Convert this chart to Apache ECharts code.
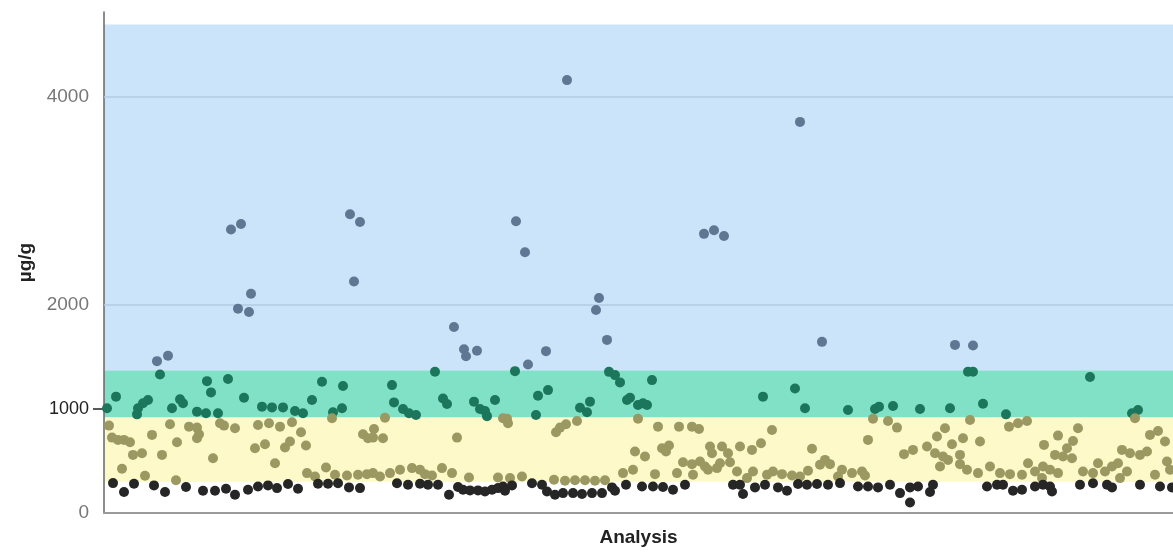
<!DOCTYPE html>
<html>
<head>
<meta charset="utf-8">
<script src="https://cdn.jsdelivr.net/npm/echarts@6/dist/echarts.min.js"></script>
<style>
  html, body { margin: 0; padding: 0; background: #ffffff; }
  #chart { width: 1173px; height: 552px; }
</style>
</head>
<body>
<div id="chart"></div>
<script>
// ---- Data (analysis number, µg/g) ----
const yTickLabels = [0, 1000, 2000, 4000];
const gridLineValues = [2000, 4000];
const bandLimits = [0, 300, 920, 1370, 4690];   // white / yellow / green / blue
const analysisCount = 1069;

const highPoints = [
  [53,1458],[64,1509],[127,2721],[137,2775],[147,2105],[134,1962],[145,1930],
  [246,2868],[256,2794],[250,2223],[350,1786],[360,1572],[362,1505],[373,1558],
  [412,2801],[421,2504],[424,1426],[442,1554],[463,4156],[495,2064],[492,1949],
  [503,1662],[600,2680],[610,2715],[620,2660],[696,3755],[718,1643],[851,1614],[869,1608]
];

const elevatedPoints = [
  [56,1330],[103,1266],[124,1286],[107,1158],[12,1117],[44,1085],[39,1053],[34,1005],
  [76,1091],[79,1053],[68,1005],[3,1005],[93,973],[102,957],[114,957],[33,947],
  [218,1260],[239,1219],[140,1107],[208,1085],[158,1021],[168,1014],[179,1014],[191,979],
  [199,957],[238,1005],[229,967],
  [331,1356],[288,1228],[290,1062],[299,998],[305,957],[312,941],[339,1100],[343,1046],
  [370,1069],[391,1085],[376,998],[381,979],[383,930],
  [411,1362],[505,1355],[511,1324],[516,1254],[444,1180],[434,1126],[526,1107],[523,1085],
  [486,1069],[476,1011],[483,967],[432,941],[534,1037],
  [548,1276],[659,1117],[539,1053],[543,1037],
  [691,1196],[701,1005],[744,989],[771,998],[775,1021],[789,1027],
  [864,1356],[869,1356],[816,998],[846,1005],[879,1049],[902,947],
  [986,1305],[1034,989],[1028,957]
];

const moderatePoints = [
  [5,839],[66,852],[85,829],[93,820],[116,861],[120,839],[8,724],[14,702],[20,702],[26,679],
  [48,750],[95,756],[93,718],[73,679],[29,558],[38,574],[58,558],[109,526],[18,424],[41,357],[72,315],
  [228,909],[131,813],[154,845],[165,861],[176,829],[188,871],[197,775],[151,622],[161,660],
  [181,628],[186,686],[202,648],[171,478],[222,437],[259,756],[264,718],[203,383],[211,351],
  [231,367],[243,360],[254,367],[263,373],
  [281,915],[270,807],[269,724],[279,718],[353,724],[399,909],[269,383],[276,351],[286,383],
  [296,415],[308,431],[316,415],[321,373],[328,360],[338,431],[348,383],[365,341],[394,341],
  [403,905],[404,861],[473,884],[462,852],[456,820],[452,775],[534,905],[531,590],[529,415],
  [519,383],[406,335],[418,351],[450,319],[461,310],[471,315],[481,315],[491,310],[501,315],
  [554,829],[575,829],[588,829],[595,807],[668,797],[558,622],[565,648],[562,590],[606,638],
  [608,574],[618,638],[624,574],[636,638],[648,606],[657,670],[541,542],[579,488],[588,469],
  [596,494],[601,447],[616,478],[626,488],[604,415],[613,431],[633,399],[551,373],[573,383],
  [589,367],[649,399],[643,335],[663,367],[669,399],
  [769,905],[784,884],[793,820],[764,702],[708,616],[800,565],[721,510],[716,463],[726,469],
  [704,405],[678,373],[688,360],[696,351],[738,415],[748,383],[758,399],[761,360],[734,351],
  [866,893],[914,861],[923,884],[905,829],[841,813],[833,734],[859,718],[848,660],[876,686],
  [940,654],[809,606],[823,638],[831,574],[839,542],[844,510],[856,558],[836,447],[856,469],
  [863,415],[874,383],[886,447],[896,383],[906,373],[918,367],[924,478],[931,399],
  [1031,909],[974,813],[954,743],[969,692],[963,622],[951,558],[959,542],[968,526],[1046,750],
  [1054,788],[1061,686],[1018,606],[1026,574],[1036,558],[1043,590],[994,478],[1008,447],
  [1014,478],[939,447],[946,415],[954,383],[979,399],[989,383],[1001,399],[1023,399],
  [1016,335],[1051,367],[1063,494],[1066,415],[938,335]
];

const lowPoints = [
  [9,287],[20,201],[30,281],[50,265],[61,201],[82,249],[99,214],[111,214],[122,233],[131,175],
  [144,223],[154,255],[164,265],[173,239],[184,278],[194,233],[214,280],[224,280],[234,285],
  [245,246],[256,239],
  [293,285],[304,271],[316,280],[324,271],[334,271],[345,175],[354,249],[359,223],[366,217],
  [374,217],[381,207],[388,223],[394,239],[399,255],
  [408,265],[401,214],[428,285],[438,271],[443,207],[451,175],[459,191],[469,191],[478,182],
  [488,191],[498,191],[508,246],[511,214],[522,271],
  [538,255],[549,255],[559,249],[569,223],[581,271],[629,271],[639,182],[651,246],[661,271],[636,271],
  [674,246],[683,214],[694,278],[703,271],[713,278],[724,271],[736,287],[754,255],[764,255],
  [774,246],[786,271],[796,191],[806,100],
  [806,246],[814,255],[826,201],[829,271],[883,255],[893,271],[899,271],[909,214],[918,223],
  [931,255],[939,271],
  [946,255],[948,207],[976,271],[989,285],[1003,271],[1008,246],[1036,271],[1056,255],[1068,246]
];

// ---- Chart ----
const chart = echarts.init(document.getElementById('chart'), null, { renderer: 'canvas' });
const FONT = "'Liberation Sans', Arial, sans-serif";

function pointSeries(name, data, color) {
  return {
    name: name,
    type: 'scatter',
    data: data,
    symbol: 'circle',
    symbolSize: 10,
    z: 3,
    itemStyle: { color: color, opacity: 1 },
    emphasis: { disabled: true }
  };
}

const option = {
  animation: false,
  backgroundColor: '#ffffff',
  grid: { left: 104, right: 0, top: 12, bottom: 37, containLabel: false },
  xAxis: {
    type: 'value',
    min: 0,
    max: analysisCount,
    name: 'Analysis',
    nameLocation: 'middle',
    nameGap: 15,
    nameTextStyle: { fontFamily: FONT, fontWeight: 'bold', fontSize: 19, color: '#222' },
    axisLine: { show: true, lineStyle: { color: '#9a9a9a', width: 2 } },
    axisTick: { show: false },
    axisLabel: { show: false },
    splitLine: { show: false }
  },
  yAxis: {
    type: 'value',
    min: 0,
    max: 4810,
    interval: 1000,
    name: 'µg/g',
    nameLocation: 'middle',
    nameGap: 69,
    nameRotate: 90,
    nameTextStyle: { fontFamily: FONT, fontWeight: 'bold', fontSize: 19, color: '#222' },
    axisLine: { show: true, lineStyle: { color: '#666', width: 1.5 } },
    axisTick: { show: true, customValues: [1000], length: 11, lineStyle: { color: '#222', width: 1.5 } },
    axisLabel: {
      customValues: yTickLabels,
      margin: 15,
      fontFamily: FONT,
      fontSize: 19,
      color: '#777',
      formatter: function (v) { return v === 1000 ? '{d|' + v + '}' : '{n|' + v + '}'; },
      rich: {
        d: { fontFamily: FONT, fontSize: 18, color: '#222' },
        n: { fontFamily: FONT, fontSize: 19, color: '#777' }
      }
    },
    splitLine: { show: false }
  },
  series: [
    {
      name: 'bands',
      type: 'scatter',
      data: [],
      silent: true,
      markArea: {
        silent: true,
        z: 0,
        label: { show: false },
        data: [
          [{ xAxis: 0, yAxis: bandLimits[1], itemStyle: { color: '#fdf9c9' } }, { xAxis: analysisCount, yAxis: bandLimits[2] }],
          [{ xAxis: 0, yAxis: bandLimits[2], itemStyle: { color: '#80e1c7' } }, { xAxis: analysisCount, yAxis: bandLimits[3] }],
          [{ xAxis: 0, yAxis: bandLimits[3], itemStyle: { color: '#cce4f9' } }, { xAxis: analysisCount, yAxis: bandLimits[4] }]
        ]
      },
      markLine: {
        silent: true,
        z: 1,
        symbol: ['none', 'none'],
        label: { show: false },
        lineStyle: { color: '#b3cde4', width: 1.5, type: 'solid' },
        data: gridLineValues.map(function (v) { return { yAxis: v }; })
      }
    },
    pointSeries('> 1370', highPoints, '#5f7792'),
    pointSeries('920–1370', elevatedPoints, '#1b765c'),
    pointSeries('300–920', moderatePoints, '#9c9862'),
    pointSeries('< 300', lowPoints, '#262626')
  ]
};

chart.setOption(option);
</script>
</body>
</html>
